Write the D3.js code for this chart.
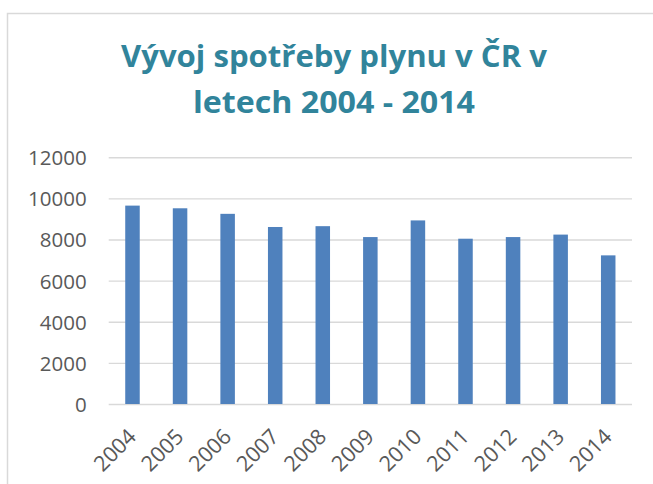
<!DOCTYPE html>
<html><head><meta charset="utf-8">
<script src="https://cdn.jsdelivr.net/npm/d3@7"></script>
<style>html,body{margin:0;padding:0;background:#fff;overflow:hidden}</style>
</head><body>
<script>
const titleLines = ["Vývoj spotřeby plynu v ČR v", "letech 2004 - 2014"];
const years = ["2004","2005","2006","2007","2008","2009","2010","2011","2012","2013","2014"];
const values = [9650, 9520, 9250, 8610, 8650, 8120, 8930, 8040, 8120, 8240, 7230];
const yTicks = [0, 2000, 4000, 6000, 8000, 10000, 12000];

const W = 653, H = 484;
const svg = d3.select("body").append("svg").attr("width", W).attr("height", H);

// chart frame
svg.append("rect").attr("x", 7.5).attr("y", 13.5).attr("width", 700).attr("height", 600)
  .attr("fill", "#fff").attr("stroke", "#D9D9D9").attr("stroke-width", 1.5);

const plot = {left: 108.7, right: 632, top: 157.3, bottom: 404};
const x = d3.scaleBand().domain(years).range([plot.left, plot.right]).paddingInner(0.695).paddingOuter(0.3475);
const y = d3.scaleLinear().domain([0, 12000]).range([plot.bottom, plot.top]);

// gridlines
const yAxis = d3.axisLeft(y).tickValues(yTicks).tickSize(-(plot.right - plot.left)).tickPadding(22).tickFormat(d3.format("d"));
const gy = svg.append("g").attr("transform", `translate(${plot.left},0)`).call(yAxis);
gy.select(".domain").remove();
gy.selectAll(".tick line").attr("stroke", "#D9D9D9").attr("stroke-width", 1.4);
gy.selectAll(".tick text").attr("fill", "#595959").attr("font-family", "'Open Sans', sans-serif")
  .attr("font-size", "20.5px").attr("dy", "0.36em");

// bars
svg.append("g").selectAll("rect").data(values).join("rect")
  .attr("x", (d, i) => x(years[i]))
  .attr("width", x.bandwidth())
  .attr("y", d => y(d))
  .attr("height", d => y(0) - y(d))
  .attr("fill", "#4F81BD");

// x axis
const xAxis = d3.axisBottom(x).tickSize(0).tickPadding(0);
const gx = svg.append("g").attr("transform", `translate(0,${plot.bottom})`).call(xAxis);
gx.select(".domain").remove();
gx.selectAll(".tick text")
  .attr("fill", "#595959").attr("font-family", "'Open Sans', sans-serif").attr("font-size", "21.5px")
  .attr("text-anchor", "end").attr("dy", 0).attr("y", 0)
  .attr("transform", "translate(5,34) rotate(-45)");

// title
const title = svg.append("text").attr("text-anchor", "middle")
  .attr("font-family", "'Open Sans', sans-serif").attr("font-weight", "bold")
  .attr("font-size", "30px").attr("fill", "#31849B");
title.selectAll("tspan").data(titleLines).join("tspan")
  .attr("x", 334).attr("y", (d, i) => 67 + i * 46)
  .attr("textLength", (d, i) => i === 0 ? 426 : 282)
  .attr("lengthAdjust", "spacingAndGlyphs")
  .text(d => d);
</script>
</body></html>
